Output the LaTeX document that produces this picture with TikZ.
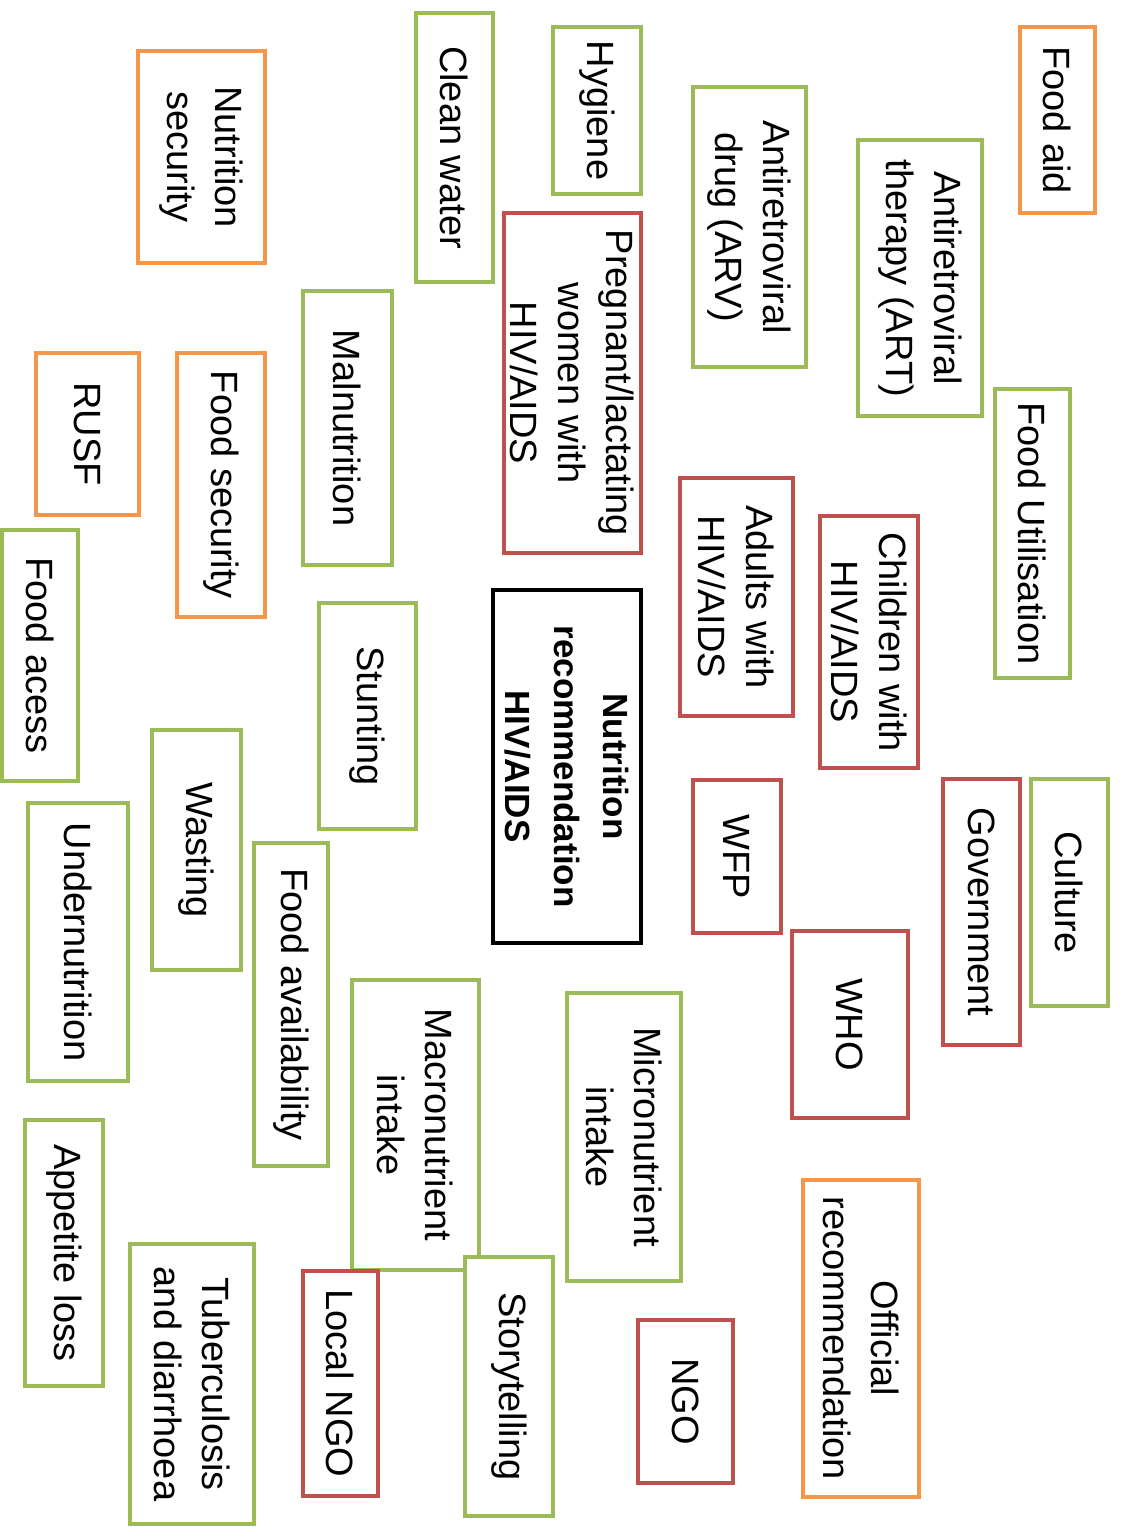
\documentclass[tikz,border=0pt]{standalone}
\usepackage{fontspec}
\setmainfont{Liberation Sans}
\definecolor{cgreen}{HTML}{9BBB59}
\definecolor{corange}{HTML}{F79646}
\definecolor{cred}{HTML}{C0504D}
\begin{document}
\begin{tikzpicture}[x=1pt,y=-1pt,
  card/.style={draw, line width=4pt, fill=white, rotate=-90, align=center,
    inner sep=0pt, font=\fontsize{38}{48}\selectfont},
  gcard/.style={card, draw=cgreen},
  ocard/.style={card, draw=corange},
  rcard/.style={card, draw=cred},
  hub/.style={card, draw=black, line width=4.5pt,
    font=\fontsize{35}{49}\selectfont\bfseries}]
\useasboundingbox (0,0) rectangle (1120,1529);

% top band
\node[ocard, minimum width=186, minimum height=75]  (fa)   at (1057.5,120)  {Food aid};
\node[gcard, minimum width=276, minimum height=124] (art)  at (920,278)     {Antiretroviral\\therapy (ART)};
\node[gcard, minimum width=280, minimum height=113] (arv)  at (749.5,227)   {Antiretroviral\\drug (ARV)};
\node[gcard, minimum width=167, minimum height=88]  (hyg)  at (597,110.5)   {Hygiene};
\node[gcard, minimum width=269, minimum height=77]  (cw)   at (454.5,147.5) {Clean water};
\node[ocard, minimum width=212, minimum height=127] (ns)   at (201.5,157)   {Nutrition\\security};

% upper middle band
\node[rcard, minimum width=340, minimum height=137] (plw)  at (572.5,383)   {Pregnant/lactating\\women with\\HIV/AIDS};
\node[gcard, minimum width=274, minimum height=89]  (mal)  at (347.5,428)   {Malnutrition};
\node[ocard, minimum width=264, minimum height=88]  (fs)   at (221,485)     {Food security};
\node[ocard, minimum width=162, minimum height=103] (rusf) at (87.5,434)    {RUSF};
\node[gcard, minimum width=289, minimum height=75]  (fu)   at (1032.5,533.5){Food Utilisation};
\node[rcard, minimum width=252, minimum height=98]  (chi)  at (869,642)     {Children with\\HIV/AIDS};
\node[rcard, minimum width=238, minimum height=113] (adu)  at (736.5,597)   {Adults with\\HIV/AIDS};

% central topic
\node[hub, minimum width=353, minimum height=148]   (main) at (567,766.5)   {Nutrition\\recommendation\\HIV/AIDS};

% middle band
\node[gcard, minimum width=226, minimum height=97]  (stu)  at (367.5,716)   {Stunting};
\node[gcard, minimum width=251, minimum height=76]  (fac)  at (40,655.5)    {Food acess};
\node[gcard, minimum width=240, minimum height=89]  (was)  at (196.5,850)   {Wasting};
\node[gcard, minimum width=278, minimum height=100] (und)  at (78,942)      {Undernutrition};
\node[gcard, minimum width=323, minimum height=74]  (fav)  at (291,1004.5)  {Food availability};
\node[rcard, minimum width=153, minimum height=88]  (wfp)  at (737,856.5)   {WFP};
\node[gcard, minimum width=227, minimum height=77]  (cul)  at (1069.5,892.5){Culture};
\node[rcard, minimum width=266, minimum height=77]  (gov)  at (981.5,912)   {Government};
\node[rcard, minimum width=187, minimum height=116] (who)  at (850,1024.5)  {WHO};

% lower band
\node[gcard, minimum width=288, minimum height=114] (mic)  at (624,1137)    {Micronutrient\\intake};
\node[gcard, minimum width=290, minimum height=127] (mac)  at (415.5,1125)  {Macronutrient\\intake};
\node[gcard, minimum width=266, minimum height=78]  (app)  at (64,1253)     {Appetite loss};
\node[gcard, minimum width=280, minimum height=124] (tub)  at (192,1384)    {Tuberculosis\\and diarrhoea};
\node[rcard, minimum width=225, minimum height=75]  (lngo) at (340.5,1383.5){Local NGO};
\node[gcard, minimum width=259, minimum height=88]  (sto)  at (509,1386.5)  {Storytelling};
\node[rcard, minimum width=163, minimum height=95]  (ngo)  at (685.5,1401.5){NGO};
\node[ocard, minimum width=317, minimum height=116] (off)  at (861,1338.5)  {Official\\recommendation};
\end{tikzpicture}
\end{document}
